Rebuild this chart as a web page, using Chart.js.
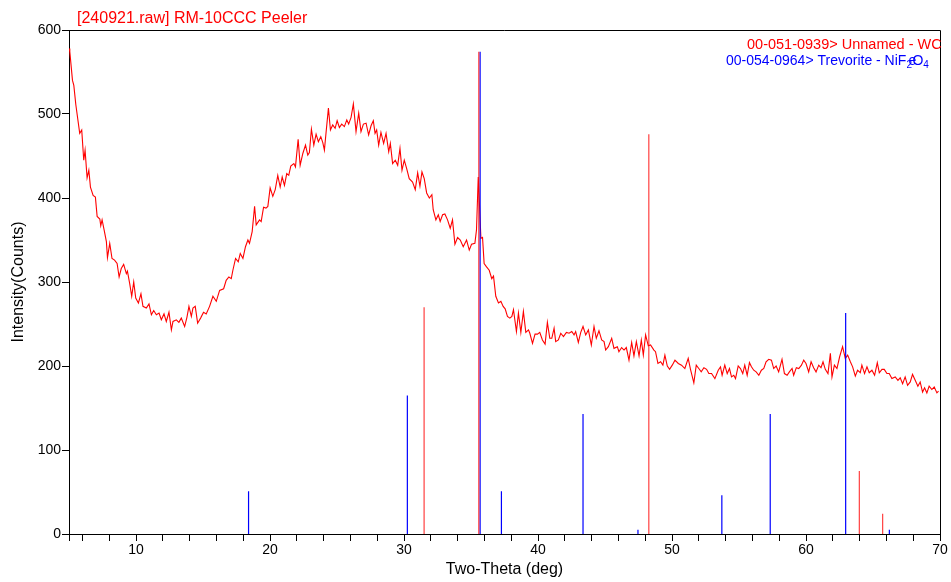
<!DOCTYPE html>
<html><head><meta charset="utf-8">
<script src="https://cdn.jsdelivr.net/npm/chart.js@4.4.1/dist/chart.umd.min.js"></script>
<style>html,body{margin:0;padding:0;background:#fff;}#wrap{width:951px;height:582px;}</style>
</head><body><div id="wrap"><canvas id="c" width="951" height="582"></canvas></div>
<script>
// ---- measured pattern (Two-Theta, Counts) ----
const twoTheta = [5.00,5.06,5.26,5.36,5.51,5.80,5.95,6.10,6.20,6.35,6.48,6.60,6.80,6.97,7.10,7.30,7.37,7.47,7.62,7.79,7.87,8.04,8.21,8.40,8.59,8.74,8.90,9.08,9.28,9.36,9.53,9.68,9.83,9.98,10.18,10.37,10.52,10.77,10.97,11.15,11.32,11.52,11.72,11.89,12.09,12.26,12.46,12.64,12.76,13.01,13.20,13.38,13.63,13.80,13.95,14.13,14.25,14.42,14.60,14.82,15.04,15.24,15.49,15.74,15.99,16.24,16.54,16.73,16.93,17.11,17.23,17.43,17.63,17.78,17.98,18.17,18.35,18.47,18.67,18.85,18.97,19.22,19.34,19.52,19.70,19.84,20.01,20.21,20.39,20.58,20.76,20.91,21.08,21.25,21.40,21.55,21.78,21.90,22.10,22.25,22.45,22.65,22.82,22.94,23.09,23.27,23.44,23.61,23.79,23.94,24.06,24.19,24.36,24.51,24.68,24.86,25.01,25.18,25.35,25.55,25.73,25.87,26.05,26.22,26.42,26.62,26.79,26.97,27.17,27.36,27.54,27.71,27.84,27.96,28.11,28.28,28.48,28.66,28.86,28.98,29.15,29.35,29.53,29.70,29.85,30.02,30.20,30.39,30.64,30.84,31.02,31.19,31.34,31.51,31.69,31.89,32.08,32.18,32.38,32.56,32.70,32.88,33.05,33.25,33.45,33.62,33.80,34.00,34.20,34.42,34.67,34.87,35.04,35.29,35.41,35.54,35.61,35.74,35.86,35.98,36.16,36.36,36.55,36.68,36.85,37.05,37.23,37.40,37.55,37.72,37.90,38.05,38.17,38.39,38.54,38.72,38.91,39.09,39.29,39.39,39.59,39.78,39.96,40.13,40.33,40.53,40.70,40.88,41.03,41.20,41.32,41.52,41.70,41.90,42.12,42.32,42.52,42.69,42.81,43.01,43.19,43.36,43.56,43.76,43.98,44.18,44.35,44.55,44.75,44.93,45.05,45.25,45.50,45.67,45.92,46.04,46.24,46.42,46.59,46.79,46.99,47.16,47.34,47.54,47.71,47.86,48.03,48.23,48.40,48.65,48.77,48.95,49.15,49.32,49.47,49.65,49.82,50.02,50.22,50.47,50.71,50.96,51.21,51.38,51.63,51.81,52.00,52.18,52.38,52.58,52.75,52.95,53.20,53.45,53.62,53.74,53.94,54.12,54.29,54.44,54.61,54.74,54.94,55.11,55.28,55.43,55.61,55.78,55.93,56.10,56.28,56.48,56.67,56.85,57.02,57.22,57.42,57.59,57.77,57.96,58.21,58.39,58.59,58.76,58.96,59.08,59.28,59.46,59.66,59.83,60.00,60.20,60.38,60.57,60.75,60.95,61.12,61.27,61.44,61.64,61.82,61.94,62.12,62.31,62.51,62.73,62.93,63.11,63.31,63.48,63.68,63.85,64.05,64.17,64.37,64.55,64.72,64.92,65.12,65.32,65.47,65.67,65.84,66.04,66.21,66.41,66.66,66.86,67.03,67.21,67.40,67.58,67.78,67.95,68.15,68.35,68.52,68.70,68.85,69.02,69.19,69.39,69.57,69.77,69.89];
const counts = [578,574,540,534,511,477,481,445,457,424,433,413,403,401,378,375,367,374,362,348,329,346,328,326,322,306,316,321,310,313,298,283,300,281,275,286,271,269,274,261,266,261,263,255,262,253,264,243,253,255,252,257,247,258,271,259,269,271,251,257,264,262,271,283,277,290,292,302,306,304,314,328,324,334,328,342,350,346,360,390,368,374,372,389,388,390,412,402,410,427,413,425,415,429,427,438,441,437,470,439,453,463,451,454,482,463,476,467,473,466,457,479,507,481,487,483,492,484,488,485,493,488,496,512,479,501,479,488,489,475,486,492,477,481,463,478,465,477,455,465,441,445,439,459,433,445,435,423,419,410,430,414,431,423,406,400,404,386,374,380,372,380,381,374,364,374,345,353,350,342,350,338,345,346,362,425,400,352,353,322,318,314,304,307,283,275,277,271,268,259,257,259,267,241,263,240,265,240,243,239,227,238,238,240,231,226,252,233,233,245,229,231,239,235,240,239,241,237,241,228,240,247,237,243,225,247,233,242,231,229,219,223,233,221,223,217,222,219,222,207,228,212,229,212,231,213,237,224,225,219,217,203,205,201,213,200,196,201,207,203,201,197,209,196,180,201,197,193,198,196,191,191,185,195,199,189,201,191,197,187,189,185,200,197,191,201,189,204,199,195,193,189,195,197,205,208,207,197,200,193,208,191,189,193,197,189,198,197,201,207,203,193,205,198,193,201,198,205,196,191,215,187,201,197,211,223,209,213,205,199,188,195,192,201,191,199,192,195,189,204,192,196,196,191,191,185,187,183,186,179,187,177,181,190,183,176,181,169,174,168,176,172,175,168,170];
// ---- reference pattern lines ----
const wcPos = [31.50, 35.58, 48.27, 63.98, 65.72];
const wcInt = [270, 574, 476, 75, 24];
const nfPos = [18.40, 30.25, 35.68, 37.27, 43.36, 47.46, 53.72, 57.33, 62.96, 66.22];
const nfInt = [51, 165, 574, 51, 143, 5, 46, 143, 263, 5];
const xLabelTicks = [10, 20, 30, 40, 50, 60, 70];
const yStep = 100;

const FONT = '"Liberation Sans", Arial, Helvetica, sans-serif';
function sticks(pos, ints) {
  const d = [];
  pos.forEach((p, i) => { d.push({x: p, y: 0}, {x: p, y: ints[i]}, {x: p, y: null}); });
  return d;
}
const trace = twoTheta.map((t, i) => ({x: t, y: counts[i]}));

const decor = {
  id: 'decor',
  afterDraw(chart) {
    const {ctx, chartArea: a} = chart;
    ctx.save();
    ctx.strokeStyle = '#000';
    ctx.lineWidth = 1;
    ctx.beginPath();
    ctx.moveTo(Math.round(a.left), Math.round(a.top) + 0.5);
    ctx.lineTo(Math.round(a.right) + 0.5, Math.round(a.top) + 0.5);
    ctx.lineTo(Math.round(a.right) + 0.5, Math.round(a.bottom));
    ctx.stroke();
    ctx.textBaseline = 'alphabetic';
    ctx.textAlign = 'left';
    ctx.fillStyle = '#ff0000';
    ctx.font = '16px ' + FONT;
    ctx.fillText('[240921.raw] RM-10CCC Peeler', 77, 22.5);
    ctx.font = '14.5px ' + FONT;
    ctx.fillText('00-051-0939> Unnamed - WC', 747, 48.5);
    ctx.fillStyle = '#0000ff';
    ctx.font = '14px ' + FONT;
    const base = '00-054-0964> Trevorite - NiF';
    ctx.fillText(base, 726, 64.5);
    const wBase = ctx.measureText(base).width;
    const xe = 726 + wBase;
    ctx.fillText('e', xe + 2, 64.5);
    ctx.fillText('O', xe + 6, 64.5);
    const wO = ctx.measureText('O').width;
    ctx.font = '10px ' + FONT;
    ctx.fillText('2', xe, 67.5);
    ctx.fillText('4', xe + 6 + wO, 67.5);
    ctx.restore();
  }
};

new Chart(document.getElementById('c'), {
  type: 'line',
  data: {
    datasets: [
      {label: 'WC', data: sticks(wcPos, wcInt), borderColor: 'rgba(255,0,0,0.75)', borderWidth: 1.2, pointRadius: 0, spanGaps: false, order: 1},
      {label: 'NiFe2O4', data: sticks(nfPos, nfInt), borderColor: '#0000ff', borderWidth: 1.2, pointRadius: 0, spanGaps: false, order: 2},
      {label: 'scan', data: trace, borderColor: '#ff0000', borderWidth: 1.1, pointRadius: 0, tension: 0, order: 3}
    ]
  },
  options: {
    responsive: false,
    animation: false,
    devicePixelRatio: 1,
    layout: {padding: {top: 30, right: 11, left: 0, bottom: 0}},
    plugins: {legend: {display: false}, title: {display: false}, tooltip: {enabled: false}},
    scales: {
      x: {
        type: 'linear', min: 5, max: 70, offset: false,
        grid: {display: true, drawOnChartArea: false, drawTicks: true, tickLength: 7, color: '#000', tickColor: '#000'},
        border: {display: true, color: '#000', width: 1},
        ticks: {stepSize: 2, autoSkip: false, maxRotation: 0, color: '#000', padding: 1,
          font: {family: FONT, size: 14},
          callback: v => xLabelTicks.includes(v) ? String(v) : ''},
        title: {display: true, text: 'Two-Theta (deg)', color: '#000', font: {family: FONT, size: 16}, padding: {top: 0, bottom: 3}},
        afterFit(s) { s.height = 48; }
      },
      y: {
        min: 0, max: 600,
        grid: {display: true, drawOnChartArea: false, drawTicks: true, tickLength: 7, color: '#000', tickColor: '#000'},
        border: {display: true, color: '#000', width: 1},
        ticks: {stepSize: yStep, color: '#000', padding: 1, font: {family: FONT, size: 14}},
        title: {display: true, text: 'Intensity(Counts)', color: '#000', font: {family: FONT, size: 16}, padding: {top: 9, bottom: 0}},
        afterFit(s) { s.width = 69; }
      }
    }
  },
  plugins: [decor]
});
</script></body></html>
